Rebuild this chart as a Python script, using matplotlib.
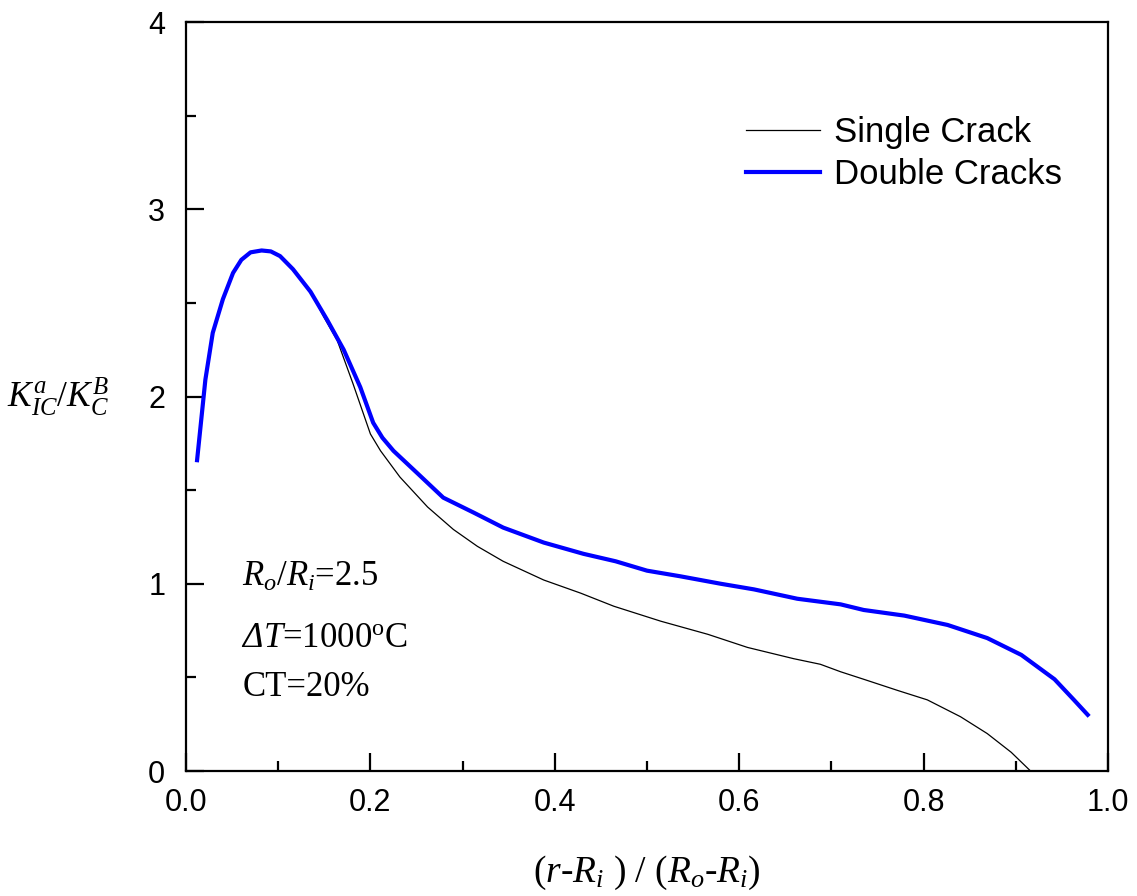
import matplotlib
matplotlib.use("Agg")
import matplotlib.pyplot as plt
from matplotlib.ticker import MultipleLocator

plt.rcParams["font.family"] = ["Liberation Sans", "DejaVu Sans"]
plt.rcParams["mathtext.fontset"] = "custom"
plt.rcParams["mathtext.rm"] = "Liberation Serif"
plt.rcParams["mathtext.it"] = "Liberation Serif:italic"
plt.rcParams["mathtext.bf"] = "Liberation Serif:bold"

# Normalised radial position and fracture toughness ratio
x_single = [0.012, 0.021, 0.029, 0.040, 0.051, 0.060, 0.070, 0.082, 0.092, 0.102,
            0.116, 0.135, 0.150, 0.164, 0.181, 0.200, 0.211, 0.232, 0.262, 0.290,
            0.316, 0.344, 0.388, 0.428, 0.464, 0.515, 0.566, 0.609, 0.659, 0.688,
            0.710, 0.735, 0.772, 0.804, 0.840, 0.869, 0.895, 0.916]
y_single = [1.66, 2.09, 2.34, 2.52, 2.66, 2.73, 2.77, 2.78, 2.775, 2.75,
            2.68, 2.56, 2.42, 2.30, 2.07, 1.80, 1.71, 1.57, 1.41, 1.29,
            1.20, 1.12, 1.02, 0.95, 0.88, 0.80, 0.73, 0.66, 0.60, 0.57,
            0.53, 0.49, 0.43, 0.38, 0.29, 0.20, 0.10, 0.00]

x_double = [0.012, 0.021, 0.029, 0.040, 0.051, 0.060, 0.070, 0.082, 0.092, 0.102,
            0.116, 0.135, 0.153, 0.171, 0.189, 0.203, 0.213, 0.225, 0.251, 0.279,
            0.312, 0.344, 0.388, 0.431, 0.466, 0.500, 0.536, 0.580, 0.616, 0.663,
            0.710, 0.735, 0.779, 0.826, 0.869, 0.906, 0.942, 0.963, 0.978]
y_double = [1.66, 2.09, 2.34, 2.52, 2.66, 2.73, 2.77, 2.78, 2.775, 2.75,
            2.68, 2.56, 2.41, 2.25, 2.05, 1.86, 1.78, 1.71, 1.59, 1.46,
            1.38, 1.30, 1.22, 1.16, 1.12, 1.07, 1.04, 1.00, 0.97, 0.92,
            0.89, 0.86, 0.83, 0.78, 0.71, 0.62, 0.49, 0.38, 0.30]

series_labels = ["Single Crack", "Double Cracks"]
x_ticks = [0.0, 0.2, 0.4, 0.6, 0.8, 1.0]
x_tick_labels = ["0.0", "0.2", "0.4", "0.6", "0.8", "1.0"]
y_ticks = [0, 1, 2, 3, 4]
y_tick_labels = ["0", "1", "2", "3", "4"]

fig = plt.figure(figsize=(11.37, 8.96), dpi=100)
ax = fig.add_axes([0.1636, 0.1395, 0.8109, 0.8359])

ax.plot(x_single, y_single, color="black", lw=0.9, label=series_labels[0],
        solid_joinstyle="round")
ax.plot(x_double, y_double, color="#0000ff", lw=3.0, label=series_labels[1],
        solid_joinstyle="round")

ax.set_xlim(0.0, 1.0)
ax.set_ylim(0, 4)
ax.set_xticks(x_ticks)
ax.set_xticklabels(x_tick_labels)
ax.set_yticks(y_ticks)
ax.set_yticklabels(y_tick_labels)
ax.xaxis.set_minor_locator(MultipleLocator(0.1))
ax.yaxis.set_minor_locator(MultipleLocator(0.5))

for s in ax.spines.values():
    s.set_linewidth(1.6)
ax.tick_params(which="both", direction="in", top=False, right=False, width=1.6)
ax.tick_params(which="major", length=13, labelsize=22)
ax.tick_params(axis="x", which="major", pad=12)
ax.tick_params(axis="y", which="major", pad=15)
ax.tick_params(which="minor", length=7)

ax.set_xlabel(r"($r$-$R_{\mathit{i}}$ ) / ($R_{\mathit{o}}$-$R_{\mathit{i}}$)",
              fontsize=27, family="Liberation Serif", labelpad=26)
ax.text(-0.083, 2.0, r"$K^{a}_{IC}/K^{B}_{C}$", transform=ax.get_yaxis_transform(),
        fontsize=25.5, ha="right", va="center")

# Case parameters
ax.text(0.061, 0.99, r"$R_o/R_i$=2.5", fontsize=25, family="Liberation Serif",
        va="baseline")
t_delta = ax.text(0.061, 0.66, "Δ", fontsize=25, family="Liberation Serif",
                  fontstyle="italic", va="baseline")
ax.annotate(r"$T$=1000$^{\mathrm{o}}$C", xy=(1, 0), xycoords=t_delta,
            fontsize=25, family="Liberation Serif", va="bottom", ha="left")
ax.text(0.061, 0.40, "CT=20%", fontsize=25, family="Liberation Serif", va="baseline")

ax.legend(loc="upper left", bbox_to_anchor=(0.573, 0.916), frameon=False,
          fontsize=25, handlelength=2.15, handletextpad=0.4, labelspacing=0.25)

fig.savefig("out.png", dpi=100)
